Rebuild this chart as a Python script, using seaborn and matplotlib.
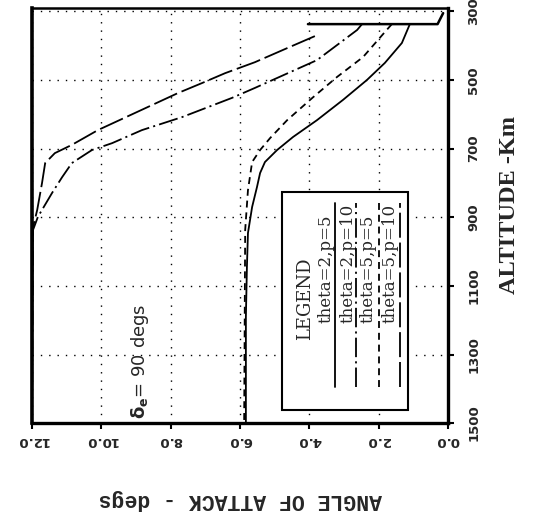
import numpy as np
import pandas as pd
import matplotlib
matplotlib.use('Agg')
import matplotlib.pyplot as plt
from matplotlib.patches import Rectangle
import seaborn as sns

altitude_ticks = [300, 500, 700, 900, 1100, 1300, 1500]
angle_ticks = [0.0, 2.0, 4.0, 6.0, 8.0, 10.0, 12.0]

init_angle = [0.14, 0.3, 4.04]
init_alt = [305, 337, 337]

series_names = ['theta=2,p=5', 'theta=2,p=10', 'theta=5,p=5', 'theta=5,p=10']

angle_t2p5 = [1.10, 1.33, 1.82, 2.34, 3.03, 3.78, 4.47, 4.93, 5.28, 5.42, 5.51, 5.65, 5.77, 5.80, 5.83, 5.83]
alt_t2p5 = [337, 392, 450, 500, 558, 617, 666, 704, 739, 771, 812, 870, 946, 1045, 1191, 1500]

angle_t2p10 = [2.48, 2.62, 3.78, 5.57, 6.23, 7.67, 8.83, 9.69, 10.27, 10.85, 11.13, 11.42, 11.83, 11.97, 12.0]
alt_t2p10 = [337, 354, 442, 523, 552, 608, 646, 684, 704, 742, 783, 829, 899, 937, 1500]

angle_t5p5 = [1.62, 1.82, 2.45, 3.20, 3.89, 4.64, 5.13, 5.42, 5.65, 5.77, 5.85, 5.88]
alt_t5p5 = [337, 360, 433, 491, 550, 617, 669, 704, 739, 821, 937, 1500]

angle_t5p10 = [3.84, 4.64, 5.57, 6.43, 7.10, 7.79, 9.03, 10.10, 10.85, 11.34, 11.62, 11.71, 11.85, 11.97, 12.0]
alt_t5p10 = [372, 407, 448, 480, 509, 538, 596, 646, 689, 713, 742, 800, 879, 929, 1500]

angles = [angle_t2p5, angle_t2p10, angle_t5p5, angle_t5p10]
alts = [alt_t2p5, alt_t2p10, alt_t5p5, alt_t5p10]
styles = ['-', (0, (14, 3, 1.5, 3)), (0, (5, 3.5)), (0, (18, 3.5))]

sns.set_style('ticks')
plt.rcParams['lines.scale_dashes'] = False

fig = plt.figure(figsize=(5.33, 5.16), dpi=100)
ax = fig.add_axes([0.060, 0.180, 0.7805, 0.8045])

# initial common segment
sns.lineplot(x=init_angle, y=init_alt, ax=ax, color='black', lw=1.8,
             sort=False, estimator=None)

for name, a, h, ls in zip(series_names, angles, alts, styles):
    df = pd.DataFrame({'angle': a, 'altitude': h})
    sns.lineplot(data=df, x='angle', y='altitude', ax=ax, color='black',
                 linestyle=ls, lw=1.3, sort=False, estimator=None)

ax.set_xlim(12, 0)
ax.set_ylim(1500, 290)
ax.set_xticks(angle_ticks)
ax.set_yticks(altitude_ticks)
ax.grid(True, color='black', linestyle=(0, (1, 5)), lw=1.0)

ax.yaxis.tick_right()
ax.yaxis.set_label_position('right')
ax.set_xticklabels(['%.1f' % v for v in angle_ticks], rotation=180,
                   fontsize=9.5, fontweight='bold')
ax.set_yticklabels([str(v) for v in altitude_ticks], rotation=90, va='center',
                   fontsize=9.5, fontweight='bold')
ax.tick_params(axis='both', direction='out', length=4, width=1.5, color='black')
ax.tick_params(axis='x', pad=4)
ax.tick_params(axis='y', pad=10)

ax.set_xlabel('ANGLE OF ATTACK - degs', rotation=180, fontsize=15.5,
              family='Liberation Mono', fontweight='bold', labelpad=30)
ax.set_ylabel('ALTITUDE -Km', rotation=90, fontsize=17.5,
              family='Liberation Serif', fontweight='bold',
              ha='center', va='center')
ax.yaxis.set_label_coords(1.147, 0.525)

for side, w in [('left', 2.6), ('bottom', 2.4), ('right', 2.4), ('top', 1.8)]:
    ax.spines[side].set_visible(True)
    ax.spines[side].set_linewidth(w)
    ax.spines[side].set_color('black')

ax.text(0.26, 0.01, r'$\mathbf{\delta_e}$= 90 degs', transform=ax.transAxes,
        rotation=90, ha='center', va='bottom', fontsize=13)

# hand-drawn legend, rotated like the rest of the page
ax.add_patch(Rectangle((0.601, 0.031), 0.303, 0.526, transform=ax.transAxes,
                       fill=True, facecolor='white', edgecolor='black',
                       lw=1.5, zorder=5))
ax.text(0.656, 0.299, 'LEGEND', transform=ax.transAxes, rotation=90,
        ha='center', va='center', fontsize=13, family='DejaVu Serif', zorder=6)
text_x = [0.706, 0.760, 0.808, 0.861]
line_x = [0.728, 0.779, 0.834, 0.885]
for name, tx, lx, ls in zip(series_names, text_x, line_x, styles):
    ax.text(tx, 0.24, name, transform=ax.transAxes, rotation=90,
            ha='center', va='bottom', fontsize=12, family='DejaVu Serif',
            zorder=6)
    ax.plot([lx, lx], [0.087, 0.530], transform=ax.transAxes, color='black',
            linestyle=ls, lw=1.3, zorder=6)

fig.savefig('out.png', dpi=100)
